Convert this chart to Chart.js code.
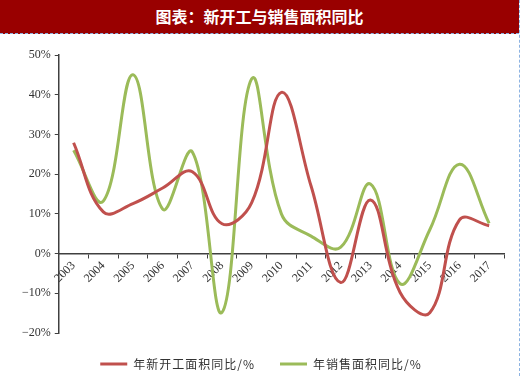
<!DOCTYPE html>
<html>
<head>
<meta charset="utf-8">
<script src="https://cdn.jsdelivr.net/npm/chart.js@4"></script>
<style>
  html, body { margin: 0; padding: 0; width: 520px; height: 376px; overflow: hidden; background: #fff; }
  #wrap { position: relative; width: 520px; height: 376px; }
  #title {
    position: absolute; left: 0; top: 0; width: 519px; height: 33px;
    background: #990000; color: #fff; text-align: center;
    font: bold 16px "Noto Sans CJK SC", sans-serif; line-height: 32px;
    border-bottom: 1px dashed #8db3e2;
  }
  #edge { position: absolute; left: 519px; top: 0; width: 0; height: 376px; border-right: 1px dashed #8db3e2; }
  #box { position: absolute; left: 0; top: 0; width: 520px; height: 380px; }
</style>
</head>
<body>
<div id="wrap">
  <div id="box"><canvas id="chart"></canvas></div>
  <div id="title">图表：新开工与销售面积同比</div>
  <div id="edge"></div>
</div>
<script>
var years = ["2003", "2004", "2005", "2006", "2007", "2008", "2009", "2010", "2011", "2012", "2013", "2014", "2015", "2016", "2017"];
var newStart = [27.9, 10.5, 12.6, 16.5, 20.6, 7.5, 12.8, 40.6, 17.0, -7.3, 13.5, -9.8, -14.9, 8.5, 7.0];
var sales = [26.0, 13.2, 45.0, 11.2, 25.6, -14.8, 44.0, 10.0, 4.4, 1.6, 17.5, -7.6, 6.0, 22.5, 7.6];
var seriesNames = ["年新开工面积同比/%", "年销售面积同比/%"];

// legend text in the picture is spaced out a bit
var spacedLegend = {
    id: 'spacedLegend',
    beforeInit: function (chart) {
        var lg = chart.legend;
        ['fit', 'draw'].forEach(function (fn) {
            var orig = lg[fn];
            lg[fn] = function () {
                var c = this.ctx;
                c.save();
                c.letterSpacing = '1px';
                orig.apply(this, arguments);
                c.restore();
            };
        });
    }
};

var ctx = document.getElementById('chart').getContext('2d');

new Chart(ctx, {
    type: 'line',
    data: {
        labels: years,
        datasets: [{
            label: seriesNames[0],
            data: newStart,
            borderColor: '#c0504d',
            backgroundColor: '#c0504d',
            borderWidth: 3,
            pointRadius: 0,
            tension: 0.4
        }, {
            label: seriesNames[1],
            data: sales,
            borderColor: '#9bbb59',
            backgroundColor: '#9bbb59',
            borderWidth: 3,
            pointRadius: 0,
            tension: 0.4
        }]
    },
    options: {
        responsive: true,
        maintainAspectRatio: false,
        animation: false,
        layout: { padding: { left: 18, right: 16, top: 55, bottom: 0 } },
        plugins: {
            tooltip: { enabled: false },
            legend: {
                position: 'bottom',
                labels: {
                    usePointStyle: true,
                    pointStyle: 'line',
                    pointStyleWidth: 27,
                    padding: 25,
                    color: '#333',
                    font: { family: '"Noto Sans CJK SC", sans-serif', size: 12 }
                }
            }
        },
        scales: {
            x: {
                position: { y: 0 },
                offset: true,
                grid: { offset: true, drawOnChartArea: false, drawTicks: true, tickLength: 4, color: '#404040', lineWidth: 1 },
                border: { color: '#404040', width: 1.5 },
                ticks: {
                    minRotation: 45,
                    maxRotation: 45,
                    autoSkip: false,
                    padding: 1,
                    color: '#333',
                    font: { family: '"Liberation Serif", serif', size: 12 }
                }
            },
            y: {
                min: -20,
                max: 50,
                grid: { drawOnChartArea: false, drawTicks: true, tickLength: 4, color: '#404040' },
                border: { color: '#404040', width: 1.5 },
                ticks: {
                    stepSize: 10,
                    padding: 4,
                    color: '#333',
                    font: { family: '"Liberation Serif", serif', size: 12 },
                    callback: function (v) { return (v < 0 ? '\u2212' + (-v) : v) + '%'; }
                }
            }
        }
    },
    plugins: [spacedLegend]
});
</script>
</body>
</html>
